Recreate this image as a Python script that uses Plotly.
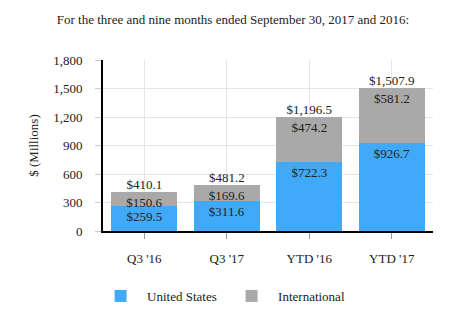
import plotly.graph_objects as go

categories = ["Q3 '16", "Q3 '17", "YTD '16", "YTD '17"]
us_values = [259.5, 311.6, 722.3, 926.7]
intl_values = [150.6, 169.6, 474.2, 581.2]
totals = [round(u + i, 1) for u, i in zip(us_values, intl_values)]
y_ticks = [0, 300, 600, 900, 1200, 1500, 1800]

FONT = "Liberation Serif"
BLUE = "#40AAF8"
GRAY = "#A9A9A9"
TXT = "#222222"

fig = go.Figure()
fig.add_trace(go.Bar(
    x=categories, y=us_values, name="United States",
    marker=dict(color=BLUE, line=dict(width=0)),
    text=[f"${v:,.1f}" for v in us_values],
    textposition="inside", insidetextanchor="end",
    textfont=dict(family=FONT, size=13, color=TXT),
    textangle=0, constraintext="none",
))
fig.add_trace(go.Bar(
    x=categories, y=intl_values, name="International",
    marker=dict(color=GRAY, line=dict(width=0)),
    text=[f"${v:,.1f}" for v in intl_values],
    textposition="inside", insidetextanchor="end",
    textfont=dict(family=FONT, size=13, color=TXT),
    textangle=0, constraintext="none",
))
fig.add_trace(go.Scatter(
    x=categories, y=totals, mode="text",
    text=[f"${v:,.1f}" for v in totals],
    textposition="top center",
    textfont=dict(family=FONT, size=13, color=TXT),
    showlegend=False, hoverinfo="skip",
))

fig.update_layout(
    barmode="stack", bargap=0.2,
    width=466, height=333,
    margin=dict(l=103, r=33, t=60, b=102),
    paper_bgcolor="white", plot_bgcolor="white",
    font=dict(family=FONT, size=13, color=TXT),
    title=dict(text="For the three and nine months ended September 30, 2017 and 2016:",
               x=0.5, xanchor="center", y=0.943, yanchor="middle",
               font=dict(family=FONT, size=13, color=TXT)),
    legend=dict(orientation="h", x=-0.027, xanchor="left", y=-0.38, yanchor="middle",
                font=dict(family=FONT, size=13, color=TXT),
                itemwidth=43,
                entrywidth=73, entrywidthmode="pixels", traceorder="normal"),
    showlegend=True,
)
fig.update_xaxes(
    type="category", showgrid=True, gridcolor="#E6E6E6",
    showline=True, linecolor="black", linewidth=2,
    ticks="outside", ticklen=6, tickcolor="#999999",
    ticklabelstandoff=8,
    tickfont=dict(family=FONT, size=13, color=TXT),
)
fig.update_yaxes(
    range=[0, 1800], tickvals=y_ticks, tickformat=",",
    showgrid=True, gridcolor="#E6E6E6",
    showline=True, linecolor="black", linewidth=2,
    ticks="outside", ticklen=6, tickcolor="#CCCCCC",
    ticklabelstandoff=10,
    tickfont=dict(family=FONT, size=13, color=TXT),
    title=dict(text="$ (Millions)", font=dict(family=FONT, size=13, color=TXT), standoff=12),
    zeroline=False,
)

fig.write_html("out.html")
